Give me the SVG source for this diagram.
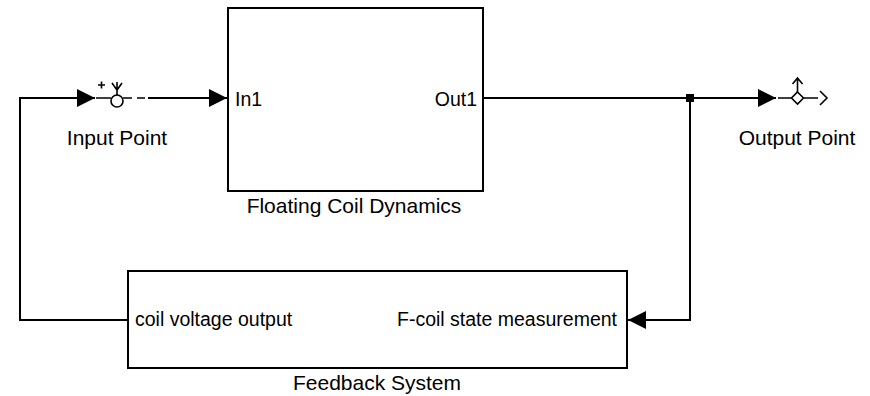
<svg xmlns="http://www.w3.org/2000/svg" width="870" height="396" viewBox="0 0 870 396">
<style>
.blk{fill:#fff;stroke:#000;stroke-width:2}
.ln{fill:none;stroke:#000;stroke-width:2}
.thin{fill:none;stroke:#000;stroke-width:1.6}
.lbl{font-family:"Liberation Sans",Arial,sans-serif;font-size:21px;fill:#000}
.port{font-family:"Liberation Sans",Arial,sans-serif;font-size:19.5px;fill:#000}
</style>
<defs>
<marker id="ah" viewBox="0 0 10 10" refX="10" refY="5" markerWidth="22" markerHeight="18" markerUnits="userSpaceOnUse" orient="auto">
<path d="M0,0 L10,5 L0,10 Z" fill="#000"/>
</marker>
</defs>
<g id="connectors">
<path class="ln" d="M128,320 H20 V98 H95" marker-end="url(#ah)"/>
<path class="ln" d="M148,98 H227" marker-end="url(#ah)"/>
<path class="ln" d="M483,98 H776" marker-end="url(#ah)"/>
<path class="ln" d="M690,98 V320 H628" marker-end="url(#ah)"/>
<rect x="686" y="94" width="8" height="8" fill="#000"/>
</g>
<g id="input-point">
<path class="thin" d="M96,98 H111 M123,98 H132 M137,98 H145"/>
<circle class="thin" cx="117" cy="101" r="6" fill="#fff"/>
<path class="thin" d="M117,82 V95 M112,83 L117,90 L122,83"/>
<path class="thin" d="M98,85 H105 M101.5,81.5 V88.5"/>
<text class="lbl" x="117" y="145" text-anchor="middle">Input Point</text>
</g>
<g id="floating-coil-dynamics">
<rect class="blk" x="228" y="8" width="255" height="183"/>
<text class="port" x="235" y="106">In1</text>
<text class="port" x="477" y="106" text-anchor="end">Out1</text>
<text class="lbl" x="354" y="213" text-anchor="middle">Floating Coil Dynamics</text>
</g>
<g id="output-point">
<path class="thin" d="M778,98 H791 M804,98 H818"/>
<path class="thin" d="M797.5,92 L803.5,98 L797.5,104 L791.5,98 Z" fill="#fff"/>
<path class="thin" d="M797.5,92 V78 M792.5,84 L797.5,78 L802.5,84"/>
<path class="thin" d="M820,91 L827,98 L820,105"/>
<text class="lbl" x="797" y="145" text-anchor="middle">Output Point</text>
</g>
<g id="feedback-system">
<rect class="blk" x="128" y="271" width="499" height="97"/>
<text class="port" x="135" y="326">coil voltage output</text>
<text class="port" x="617" y="326" text-anchor="end">F-coil state measurement</text>
<text class="lbl" x="377" y="390" text-anchor="middle">Feedback System</text>
</g>
</svg>
